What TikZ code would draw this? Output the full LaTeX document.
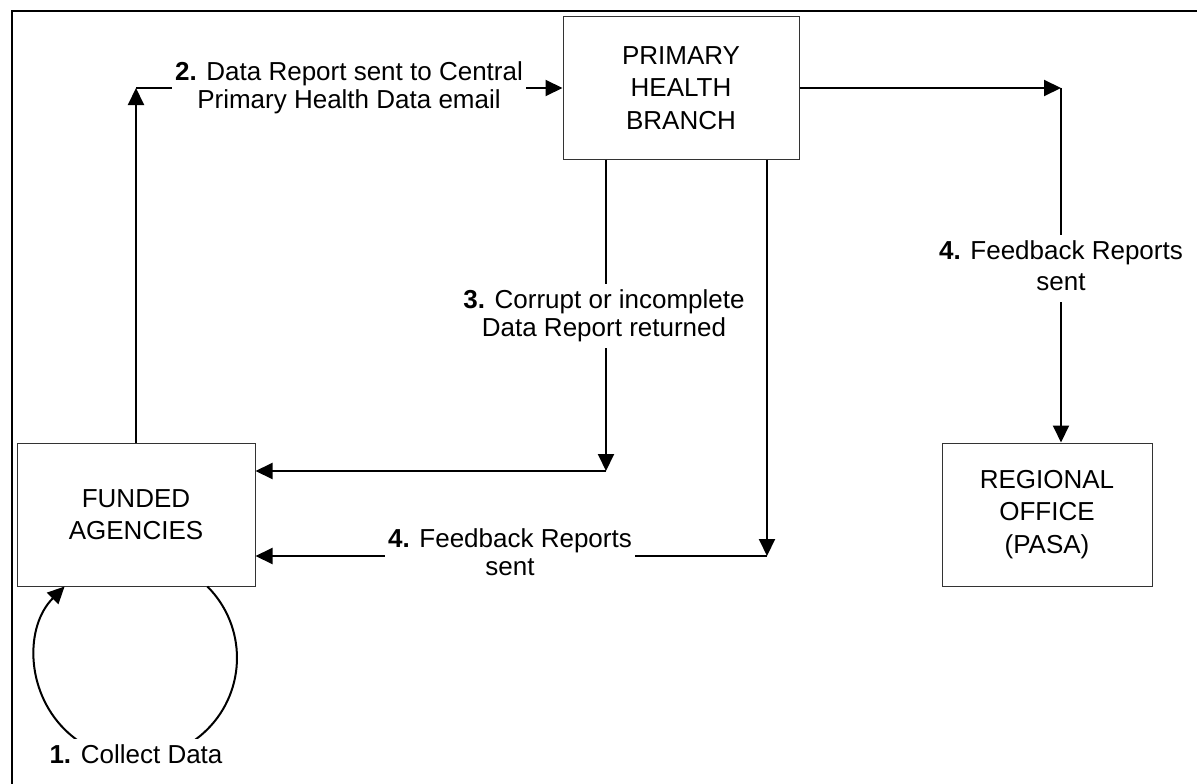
\documentclass[tikz,border=0pt]{standalone}
\usepackage{fontspec}
\setmainfont{Liberation Sans}
\usetikzlibrary{arrows.meta}
\newcommand{\lbltext}[1]{\begin{tabular}[t]{@{}c@{}}#1\end{tabular}}
\begin{document}
\begin{tikzpicture}[x=1pt,y=-1pt,
  box/.style={draw=black!80, line width=1pt, fill=white, align=center,
    font=\fontsize{26}{32.5}\selectfont, inner sep=0pt},
  conn/.style={line width=2pt, draw=black},
  arr/.style={conn, -{Triangle[length=17pt,width=16pt]}},
  lbl/.style={fill=white, inner xsep=3pt, inner ysep=4pt, anchor=base,
    font=\fontsize{26}{28}\selectfont},
  frame/.style={line width=1.5pt, draw=black}]
\useasboundingbox (0,0) rectangle (1197,784);
% outer frame (top and left edges)
\coordinate (ftl) at (12,11);
\coordinate (ftr) at (1197,11);
\coordinate (fbl) at (12,784);
\draw[frame] (ftr) -- (ftl) -- (fbl);

% boxes
\node[box, minimum width=236pt, minimum height=142pt] (phb) at (681,88) {PRIMARY\\HEALTH\\BRANCH};
\node[box, minimum width=238pt, minimum height=143pt] (fa) at (136,514.5) {FUNDED\\AGENCIES};
\node[box, minimum width=210pt, minimum height=143pt] (ro) at (1047,514.5) {REGIONAL\\OFFICE\\(PASA)};

% 1. loop
\draw[arr] ([xshift=71.4pt]fa.south) arc[start angle=-45, end angle=225, radius=101];
\node[lbl] (l1) at (136,763) {\lbltext{\textbf{1.} Collect Data}};

% 2. FA -> PHB
\coordinate (c2) at (fa.north |- phb.west);
\draw[arr] (fa.north) -- (c2);
\draw[arr] (c2) -- (phb.west);
\node[lbl] (l2) at (349,81) {\lbltext{\textbf{2.} Data Report sent to Central\\Primary Health Data email}};

% 3. PHB -> FA (returned)
\coordinate (c3) at (606,471);
\draw[arr] (c3 |- phb.south) -- (c3);
\draw[arr] (c3) -- (c3 -| fa.east);
\node[lbl] (l3) at (604,308) {\lbltext{\textbf{3.} Corrupt or incomplete\\Data Report returned}};

% 4. PHB -> FA (feedback)
\coordinate (c4) at (767,556);
\draw[arr] (c4 |- phb.south) -- (c4);
\draw[arr] (c4) -- (c4 -| fa.east);
\node[lbl] (l4a) at (510,547) {\lbltext{\textbf{4.} Feedback Reports\\sent}};

% 4. PHB -> RO (feedback)
\coordinate (c5) at (1061,88);
\draw[arr] (c5 -| phb.east) -- (c5);
\draw[arr] (c5) -- (c5 |- ro.north);
\node[lbl] (l4b) at (1061,259) {\lbltext{\textbf{4.} Feedback Reports\\[3pt]sent}};
\end{tikzpicture}
\end{document}
